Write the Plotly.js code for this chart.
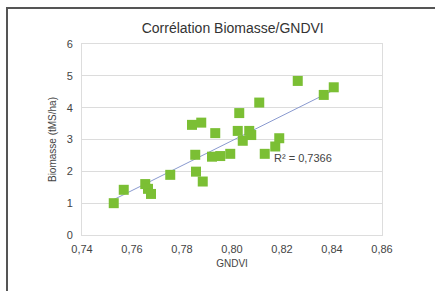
<!DOCTYPE html>
<html>
<head>
<meta charset="utf-8">
<script src="https://cdn.plot.ly/plotly-3.0.1.min.js"></script>
<style>
html,body{margin:0;padding:0;background:#fff;}
#wrap{position:relative;width:435px;height:291px;overflow:hidden;}
#chart{position:absolute;left:0;top:0;width:435px;height:291px;}
#frame{position:absolute;left:6px;top:7px;width:440px;height:300px;border-top:2px solid #555;border-left:2px solid #555;pointer-events:none;}
</style>
</head>
<body>
<div id="wrap"><div id="chart"></div><div id="frame"></div></div>
<script>
const gndvi = [0.7527,0.7567,0.7653,0.7664,0.7676,0.7753,0.7840,0.7877,0.7853,0.7856,0.7883,0.7933,0.7920,0.7953,0.7993,0.8029,0.8023,0.8043,0.8069,0.8077,0.8109,0.8131,0.8173,0.8189,0.8263,0.8367,0.8407];
const biomasse = [1.00,1.42,1.60,1.45,1.29,1.89,3.46,3.53,2.52,1.99,1.68,3.20,2.46,2.48,2.55,3.83,3.27,2.96,3.27,3.14,4.16,2.55,2.78,3.04,4.84,4.40,4.64];
const xTicks = [0.74,0.76,0.78,0.80,0.82,0.84,0.86];
const yTicks = [0,1,2,3,4,5,6];
const r2Label = "R² = 0,7366";

// linear trend line (least squares) from the data
const n = gndvi.length;
const mx = gndvi.reduce((a,b)=>a+b,0)/n;
const my = biomasse.reduce((a,b)=>a+b,0)/n;
let sxy=0,sxx=0;
for(let i=0;i<n;i++){sxy+=(gndvi[i]-mx)*(biomasse[i]-my);sxx+=(gndvi[i]-mx)**2;}
const slope=sxy/sxx, icpt=my-slope*mx;
const xmin=Math.min(...gndvi), xmax=Math.max(...gndvi);
const trendX=[xmin,xmax];
const trendY=trendX.map(x=>icpt+slope*x);

const font = "Liberation Sans, Arial, sans-serif";
const data = [
  {x:trendX,y:trendY,mode:'lines',line:{color:'#8a9ad0',width:1},hoverinfo:'skip',showlegend:false},
  {x:gndvi,y:biomasse,mode:'markers',marker:{symbol:'square',size:10,color:'#7bbf34'},showlegend:false}
];
const layout = {
  width:435,height:291,
  margin:{l:82,r:53,t:44,b:56},
  paper_bgcolor:'#fff',plot_bgcolor:'#fff',
  separators:', ',
  title:{text:'Corrélation Biomasse/GNDVI',font:{family:font,size:14,color:'#333'},x:0.535,xanchor:'center',y:1-28/291,yanchor:'middle',yref:'container'},
  xaxis:{range:[0.74,0.86],tickvals:xTicks,tickformat:'.2f',showgrid:false,zeroline:false,
    showline:true,linecolor:'#ddd',mirror:true,ticks:'outside',ticklen:4,tickcolor:'rgba(0,0,0,0)',
    tickfont:{family:font,size:11,color:'#444'},
    title:{text:'GNDVI',font:{family:font,size:10,color:'#444'},standoff:5}},
  yaxis:{range:[0,6],tickvals:yTicks,showgrid:true,gridcolor:'#dcdcdc',zeroline:false,
    showline:true,linecolor:'#ddd',mirror:true,ticks:'outside',ticklen:6,tickcolor:'rgba(0,0,0,0)',
    tickfont:{family:font,size:11,color:'#444'},
    title:{text:'Biomasse (tMS/ha)',font:{family:font,size:10,color:'#444'},standoff:8}},
  annotations:[{x:0.8285,y:2.42,xref:'x',yref:'y',text:r2Label,showarrow:false,xanchor:'center',
    font:{family:font,size:11,color:'#444'}}]
};
Plotly.newPlot('chart',data,layout,{displayModeBar:false,staticPlot:true});
</script>
</body>
</html>
